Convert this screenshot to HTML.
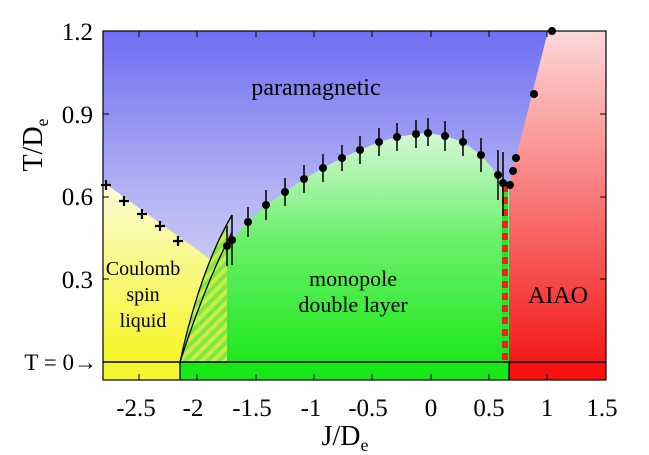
<!DOCTYPE html>
<html><head><style>html,body{margin:0;padding:0;background:#fff}svg{display:block}text{font-family:"Liberation Serif",serif;fill:#000}</style></head>
<body>
<svg width="649" height="455" viewBox="0 0 649 455" xmlns="http://www.w3.org/2000/svg">
<defs>
<linearGradient id="bl" x1="0" y1="0" x2="0" y2="1"><stop offset="0" stop-color="#6e6ef2"/><stop offset="0.5" stop-color="#b4b4f4"/><stop offset="1" stop-color="#e8e8f6"/></linearGradient>
<linearGradient id="ye" x1="0" y1="0" x2="0" y2="1"><stop offset="0" stop-color="#fbfbd8"/><stop offset="1" stop-color="#f6f626"/></linearGradient>
<linearGradient id="gr" x1="0" y1="0" x2="0" y2="1"><stop offset="0" stop-color="#d6f7d6"/><stop offset="0.45" stop-color="#6ef06e"/><stop offset="1" stop-color="#1ee81e"/></linearGradient>
<linearGradient id="rd" x1="0" y1="0" x2="0" y2="1"><stop offset="0" stop-color="#fdd8d8"/><stop offset="1" stop-color="#f41a1a"/></linearGradient>
<pattern id="hat" width="8" height="8" patternUnits="userSpaceOnUse" patternTransform="rotate(45)"><rect width="8" height="8" fill="#c8f040"/><rect width="4" height="8" fill="#7ee84a"/></pattern>
</defs>
<rect x="103" y="31" width="503" height="331" fill="url(#bl)"/>
<polygon points="103,182 214,262 202,290 190,325 180,362 103,362" fill="url(#ye)"/>
<path d="M180,362 Q200,270 232,215 L227,230 L227,362 Z" fill="url(#hat)"/>
<path d="M227,246 L232,240 248,222 266,205 285,192 304,179 323,168 342,158 360,150 379,142 397,137 416,134 428,133 445,136 463,142 481,155 498,175 503,183 509,185 509,362 227,362 Z" fill="url(#gr)"/>
<polygon points="509,185 548,31 606,31 606,362 509,362" fill="url(#rd)"/>
<line x1="505" y1="185" x2="505" y2="362" stroke="#30e030" stroke-width="6"/>
<line x1="505" y1="185" x2="505" y2="362" stroke="#f02020" stroke-width="6" stroke-dasharray="7,5"/>
<path d="M180,362 Q200,270 232,215" fill="none" stroke="#000" stroke-width="1.3"/>
<path d="M180,362 Q205,285 232,232" fill="none" stroke="#000" stroke-width="1.3"/>
<rect x="103" y="362" width="77" height="18" fill="#f6f630"/>
<rect x="180" y="362" width="329" height="18" fill="#18e818"/>
<rect x="509" y="362" width="97" height="18" fill="#fa1010"/>
<line x1="180" y1="362" x2="180" y2="380" stroke="#000" stroke-width="1.3"/>
<line x1="509" y1="362" x2="509" y2="380" stroke="#000" stroke-width="1.3"/>
<line x1="103" y1="362" x2="606" y2="362" stroke="#000" stroke-width="1.5"/>
<rect x="103" y="31" width="503" height="349" fill="none" stroke="#000" stroke-width="1.2"/>
<g stroke="#000" stroke-width="1">
<path d="M139,380v-6M197,380v-6M256,380v-6M314,380v-6M372,380v-6M431,380v-6M489,380v-6M547,380v-6M139,31v6M197,31v6M256,31v6M314,31v6M372,31v6M431,31v6M489,31v6M547,31v6"/>
<path d="M103,114h6M103,197h6M103,279h6M606,114h-6M606,197h-6M606,279h-6"/>
</g>
<g stroke="#000" stroke-width="2.2">
<path d="M101,185h10M106,180v10M119,201h10M124,196v10M137,214h10M142,209v10M155,226h10M160,221v10M173,241h10M178,236v10"/>
</g>
<g stroke="#000" stroke-width="1.5" fill="none">
<path d="M227,226v40M232,215v50M248,207v30M266,190v30M285,178v28M304,165v28M323,154v28M342,145v26M360,136v28M379,128v28M397,123v28M416,120v28M428,118v28M445,121v30M463,130v26M481,138v34M498,150v50M503,152v64"/>
</g>
<g fill="#000">
<circle cx="227" cy="246" r="4"/><circle cx="232" cy="240" r="4"/><circle cx="248" cy="222" r="4"/><circle cx="266" cy="205" r="4"/><circle cx="285" cy="192" r="4"/><circle cx="304" cy="179" r="4"/><circle cx="323" cy="168" r="4"/><circle cx="342" cy="158" r="4"/><circle cx="360" cy="150" r="4"/><circle cx="379" cy="142" r="4"/><circle cx="397" cy="137" r="4"/><circle cx="416" cy="134" r="4"/><circle cx="428" cy="133" r="4"/><circle cx="445" cy="136" r="4"/><circle cx="463" cy="142" r="4"/><circle cx="481" cy="155" r="4"/><circle cx="498" cy="175" r="4"/><circle cx="503" cy="183" r="4"/><circle cx="510" cy="185" r="4"/><circle cx="513" cy="171" r="4"/><circle cx="516" cy="158" r="4"/><circle cx="534" cy="94" r="4"/><circle cx="552" cy="31" r="4"/>
</g>
<g font-size="25" text-anchor="end">
<text x="93" y="40">1.2</text><text x="93" y="123">0.9</text><text x="93" y="205">0.6</text><text x="93" y="288">0.3</text>
<text x="97" y="370" font-size="23">T = 0→</text>
</g>
<g font-size="25" text-anchor="middle">
<text x="136" y="416">-2.5</text><text x="193" y="416">-2</text><text x="252" y="416">-1.5</text><text x="311" y="416">-1</text><text x="368" y="416">-0.5</text><text x="431" y="416">0</text><text x="489" y="416">0.5</text><text x="547" y="416">1</text><text x="602" y="416">1.5</text>
</g>
<text x="345" y="445" font-size="28" text-anchor="middle">J/D<tspan font-size="18" dy="6">e</tspan></text>
<text transform="translate(42,145) rotate(-90)" font-size="28" text-anchor="middle">T/D<tspan font-size="18" dy="6">e</tspan></text>
<text x="316" y="95" font-size="24" text-anchor="middle">paramagnetic</text>
<g font-size="20" text-anchor="middle">
<text x="143" y="275">Coulomb</text><text x="143" y="301">spin</text><text x="143" y="327">liquid</text>
<text x="353" y="286" font-size="22">monopole</text><text x="353" y="312" font-size="22">double layer</text>
<text x="558" y="303" font-size="24" fill="#300">AIAO</text>
</g>
</svg>
</body></html>
